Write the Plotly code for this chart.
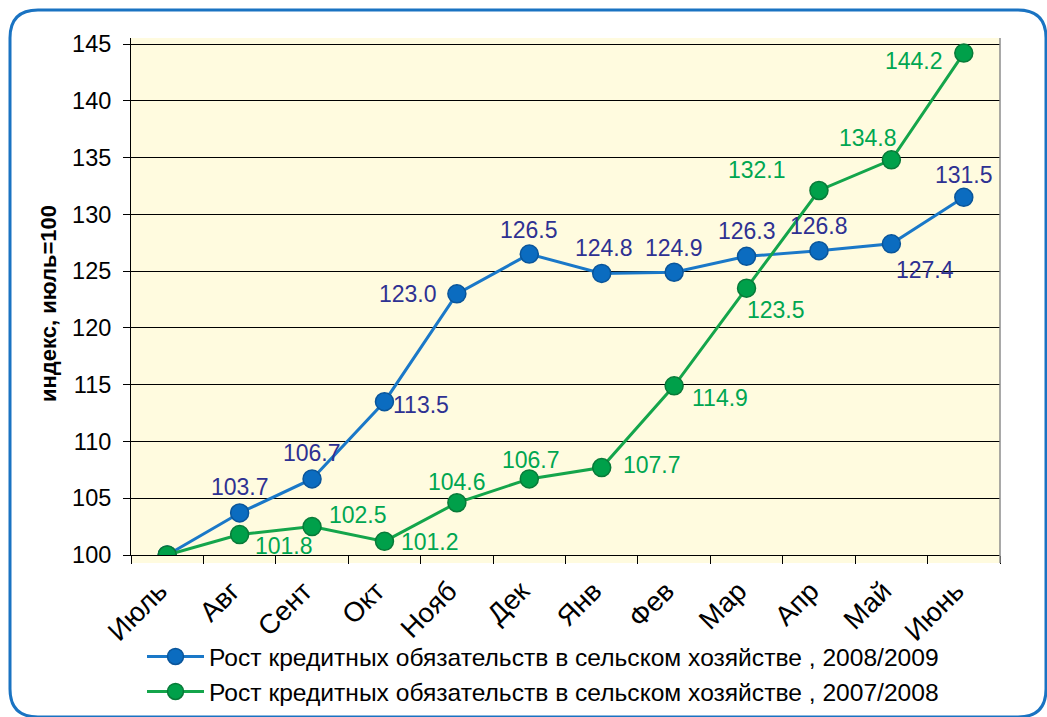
import plotly.graph_objects as go

months = ["Июль", "Авг", "Сент", "Окт", "Нояб", "Дек", "Янв", "Фев", "Мар", "Апр", "Май", "Июнь"]
series_2008_2009 = [100.0, 103.7, 106.7, 113.5, 123.0, 126.5, 124.8, 124.9, 126.3, 126.8, 127.4, 131.5]
series_2007_2008 = [100.0, 101.8, 102.5, 101.2, 104.6, 106.7, 107.7, 114.9, 123.5, 132.1, 134.8, 144.2]
name_2008_2009 = "Рост кредитных обязательств в сельском хозяйстве , 2008/2009"
name_2007_2008 = "Рост кредитных обязательств в сельском хозяйстве , 2007/2008"
y_ticks = [100, 105, 110, 115, 120, 125, 130, 135, 140, 145]

# label offsets (pixels) relative to each marker; None = no label
blue_off = [None, (0, 26), (0, 26), (37, -3), (-49, 0), (0, 24), (2, 25), (0, 24), (0, 25), (0, 25), (34, -26), (0, 22)]
green_off = [None, (44, -11), (46, 12), (46, -1), (0, 21), (2, 19), (50, 3), (46, -12), (29, -22), (-62, 20), (-23, 22), (-50, -8)]

W, H = 1047, 717
L, R, T, B = 131, 1000, 38, 555
FONT = "Liberation Sans, Arial, sans-serif"
BLUE_LINE, BLUE_MK, BLUE_EDGE, BLUE_TXT = "#1a78c8", "#0b6cc0", "#0a559a", "#2e3192"
GREEN_LINE, GREEN_MK, GREEN_EDGE, GREEN_TXT = "#14a54b", "#00a04a", "#087a38", "#00a651"

def px(x):
    return (x - L) / (R - L)

def py(y):
    return (B - y) / (B - T)

fig = go.Figure()
fig.add_trace(go.Scatter(
    x=months, y=series_2008_2009, name=name_2008_2009, mode="lines+markers",
    line=dict(color=BLUE_LINE, width=3),
    marker=dict(size=18, color=BLUE_MK, line=dict(color=BLUE_EDGE, width=1.5)),
    legendgroup="a"))
fig.add_trace(go.Scatter(
    x=months, y=series_2007_2008, name=name_2007_2008, mode="lines+markers",
    line=dict(color=GREEN_LINE, width=3),
    marker=dict(size=18, color=GREEN_MK, line=dict(color=GREEN_EDGE, width=1.5)),
    legendgroup="b"))

annotations = []
for vals, offs, col in [(series_2008_2009, blue_off, BLUE_TXT), (series_2007_2008, green_off, GREEN_TXT)]:
    for m, v, o in zip(months, vals, offs):
        if o is None:
            continue
        annotations.append(dict(x=m, y=v, text=f"{v:.1f}", showarrow=False,
                                xshift=o[0], yshift=o[1],
                                font=dict(family=FONT, size=23, color=col)))

annotations.append(dict(x=px(49), y=py(304), xref="paper", yref="paper",
                        xanchor="center", yanchor="middle",
                        text="<b>индекс, июль=100</b>", textangle=-90, showarrow=False,
                        font=dict(family=FONT, size=22, color="black")))

# rounded frame
x0, y0, x1, y1, r = 10, 10, 1046, 717, 28
path = (f"M {px(x0)},{py(y0 + r)} "
        f"Q {px(x0)},{py(y0)} {px(x0 + r)},{py(y0)} "
        f"L {px(x1 - r)},{py(y0)} "
        f"Q {px(x1)},{py(y0)} {px(x1)},{py(y0 + r)} "
        f"L {px(x1)},{py(y1 - r)} "
        f"Q {px(x1)},{py(y1)} {px(x1 - r)},{py(y1)} "
        f"L {px(x0 + r)},{py(y1)} "
        f"Q {px(x0)},{py(y1)} {px(x0)},{py(y1 - r)} Z")
shapes = [
    dict(type="path", path=path, xref="paper", yref="paper",
         line=dict(color="#1a73c2", width=3), layer="below"),
    dict(type="rect", xref="paper", yref="paper", x0=0, x1=1, y0=py(563), y1=0,
         fillcolor="#fffbdf", line=dict(width=0), layer="below"),
    dict(type="line", xref="paper", yref="paper", x0=1, x1=1, y0=py(563), y1=1,
         line=dict(color="#8c8c8c", width=1.5)),
]

fig.update_layout(
    width=W, height=H,
    margin=dict(l=L, r=W - R, t=T, b=H - B, autoexpand=False),
    paper_bgcolor="white", plot_bgcolor="#fffbdf",
    font=dict(family=FONT, size=20, color="black"),
    showlegend=True,
    legend=dict(x=px(142), y=py(634), xanchor="left", yanchor="top",
                font=dict(family=FONT, size=24.6, color="black"),
                itemwidth=57, traceorder="grouped", tracegroupgap=0,
                bgcolor="rgba(0,0,0,0)"),
    annotations=annotations, shapes=shapes,
    xaxis=dict(type="category", categoryorder="array", categoryarray=months,
               tickangle=-45, tickfont=dict(size=27.5, family=FONT),
               ticks="outside", tickson="boundaries", ticklen=8, tickcolor="black",
               ticklabelstandoff=8, ticklabelshift=-8,
               showline=True, linecolor="black", linewidth=1,
               showgrid=False, range=[-0.5, 11.5], automargin=False),
    yaxis=dict(range=[100, 145 + 6 / 11.356], tickvals=y_ticks,
               tickfont=dict(size=23.5, family=FONT),
               ticks="outside", ticklen=7, tickcolor="black",
               ticklabelstandoff=7,
               showline=True, linecolor="black", linewidth=1,
               showgrid=True, gridcolor="black", gridwidth=1, zeroline=False,
               automargin=False),
)

fig.write_html("out.html", config={"displayModeBar": False},
               post_script="document.body.style.margin='0';document.body.style.overflow='hidden';")
